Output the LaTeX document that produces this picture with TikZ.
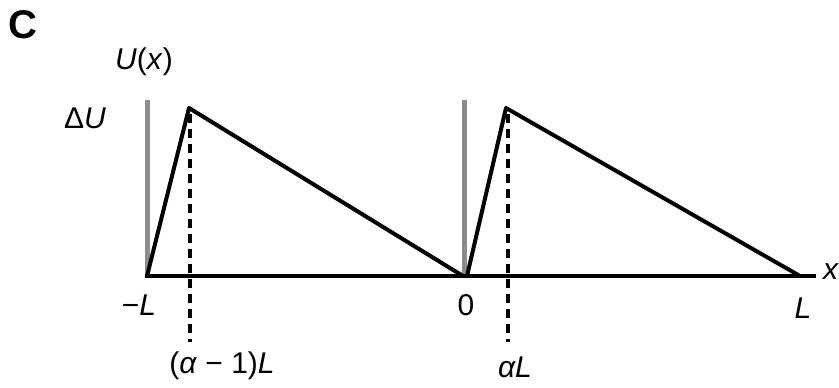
\documentclass[tikz,border=0pt]{standalone}
\usepackage{fontspec}
\setmainfont{Liberation Sans}
\begin{document}
\begin{tikzpicture}[x=1pt,y=-1pt,
  lbl/.style={inner sep=0pt,font=\fontsize{30}{32}\selectfont},
  curve/.style={line width=4pt,black,line join=round},
  spike/.style={line width=5pt,black!45},
  drop/.style={line width=3.5pt,black,dash pattern=on 9pt off 6pt}]
\useasboundingbox (0,0) rectangle (839,388);
% coordinates
\coordinate (a0) at (145,276);
\coordinate (a1) at (816,276);
\coordinate (lb) at (147,276);
\coordinate (lt) at (147,100);
\coordinate (rb) at (464,276);
\coordinate (rt) at (464,100);
\coordinate (p1) at (189,108);
\coordinate (z) at (463,276);
\coordinate (z2) at (467,276);
\coordinate (p2) at (506,108);
\coordinate (e) at (800,276);
\coordinate (d1) at (190,342);
\coordinate (d1t) at (190,114);
\coordinate (d2) at (508,342);
\coordinate (d2t) at (508,114);
% spikes
\draw[spike] (lb) -- (lt);
\draw[spike] (rb) -- (rt);
% axis
\draw[line width=4pt] (a0) -- (a1);
% dashed drops
\draw[drop] (d1t) -- (d1);
\draw[drop] (d2t) -- (d2);
% potential
\draw[curve] (lb) -- (p1) -- (z);
\draw[curve] (z2) -- (p2) -- (e);
% labels
\node[lbl,font=\fontsize{40}{42}\selectfont\bfseries] (c) at (23,25) {C};
\node[lbl] (ux) at (144,62) {\textit{U}(\textit{x})};
\node[lbl] (du) at (85,118) {Δ\textit{U}};
\node[lbl] (ml) at (139,305) {−\textit{L}};
\node[lbl] (o) at (466,305) {0};
\node[lbl] (pl) at (803,308) {\textit{L}};
\node[lbl] (xx) at (831,272) {\textit{x}};
\node[lbl] (al1) at (222,366) {(\textit{α} − 1)\textit{L}};
\node[lbl] (al2) at (515,367) {\textit{αL}};
\end{tikzpicture}
\end{document}
